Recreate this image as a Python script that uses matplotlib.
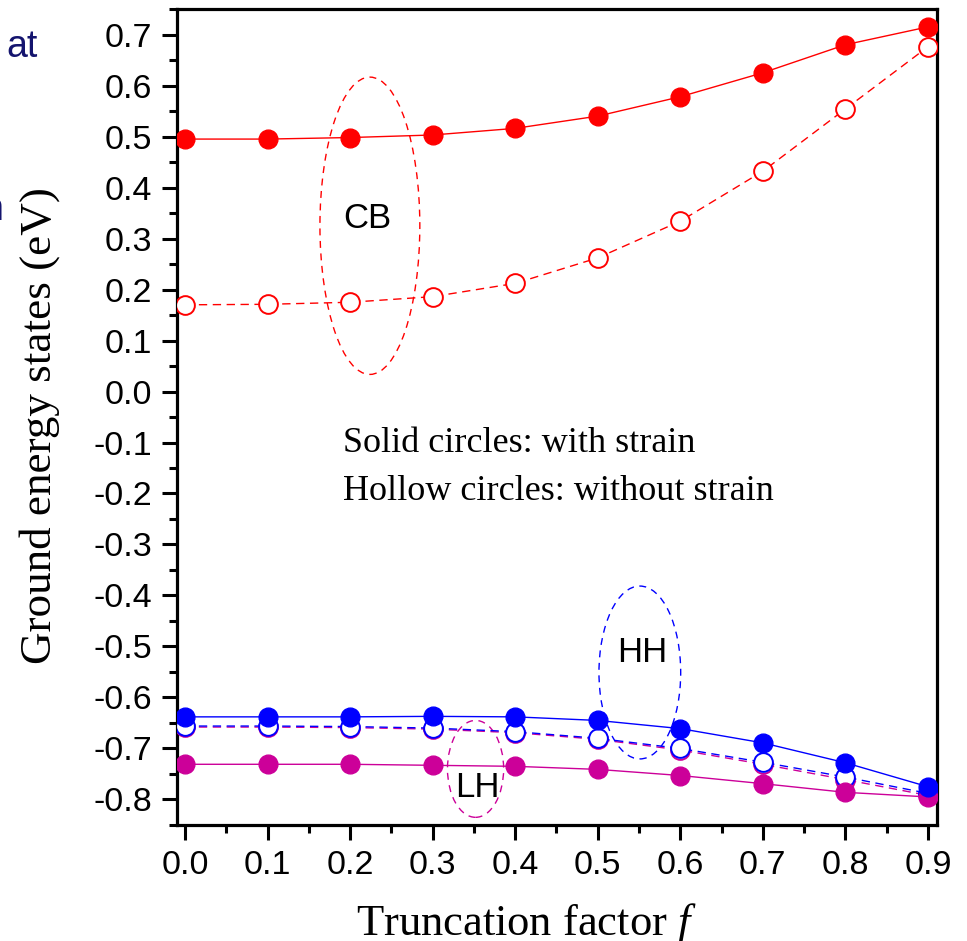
import numpy as np
import matplotlib
matplotlib.use('Agg')
import matplotlib.pyplot as plt
from matplotlib.patches import Ellipse
from matplotlib.ticker import MultipleLocator, FormatStrFormatter

plt.rcParams['mathtext.fontset'] = 'custom'
plt.rcParams['mathtext.it'] = 'Liberation Serif:italic'
plt.rcParams['mathtext.rm'] = 'Liberation Serif'

# data
f = [0.0, 0.1, 0.2, 0.3, 0.4, 0.5, 0.6, 0.7, 0.8, 0.9]
cb_strain = [0.495, 0.495, 0.498, 0.503, 0.516, 0.540, 0.578, 0.625, 0.680, 0.715]
cb_nostrain = [0.170, 0.171, 0.175, 0.186, 0.212, 0.262, 0.334, 0.432, 0.554, 0.676]
hh_strain = [-0.638, -0.638, -0.638, -0.637, -0.638, -0.645, -0.661, -0.689, -0.728, -0.775]
hh_nostrain = [-0.656, -0.656, -0.657, -0.660, -0.667, -0.680, -0.700, -0.727, -0.756, -0.788]
lh_strain = [-0.731, -0.731, -0.731, -0.733, -0.735, -0.741, -0.753, -0.769, -0.786, -0.795]
lh_nostrain = [-0.658, -0.658, -0.659, -0.662, -0.669, -0.682, -0.703, -0.731, -0.761, -0.792]

red = '#ff0000'
blue = '#0000ff'
mag = '#cc0099'
navy = '#14146e'
serif = 'Liberation Serif'
sans = 'Liberation Sans'

W, H = 967, 941
fig = plt.figure(figsize=(W / 100, H / 100), dpi=100)
ax = fig.add_axes([0.183, 0.1233, 0.786, 0.8671])

ms = 13.5
def solid(y, c):
    ax.plot(f, y, '-', color=c, lw=1.0, marker='o', ms=ms, mfc=c, mec=c, zorder=3)

def hollow(y, c):
    ax.plot(f, y, '--', color=c, lw=1.0, dashes=(6, 4), marker='o', ms=ms,
            mfc='white', mec=c, mew=1.4, zorder=3)

hollow(cb_nostrain, red)
solid(cb_strain, red)
hollow(lh_nostrain, mag)
hollow(hh_nostrain, blue)
solid(lh_strain, mag)
solid(hh_strain, blue)

# dashed ellipses around the bands
for xy, w, h, c in [((0.224, 0.325), 0.121, 0.583, red),
                    ((0.551, -0.551), 0.099, 0.339, blue),
                    ((0.352, -0.740), 0.068, 0.190, mag)]:
    ax.add_patch(Ellipse(xy, w, h, fill=False, ec=c, lw=1.0, ls=(0, (5, 4)), zorder=2))

ax.text(0.2205, 0.320, 'CB', family=sans, fontsize=25, ha='center', va='baseline')
ax.text(0.5535, -0.530, 'HH', family=sans, fontsize=25, ha='center', va='baseline')
ax.text(0.3537, -0.796, 'LH', family=sans, fontsize=25, ha='center', va='baseline')
ax.text(0.191, -0.1185, 'Solid circles: with strain', family=serif, fontsize=26, va='baseline')
ax.text(0.191, -0.2125, 'Hollow circles: without strain', family=serif, fontsize=26, va='baseline')

ax.set_xlim(-0.0097, 0.911)
ax.set_ylim(-0.85, 0.75)
ax.xaxis.set_major_locator(MultipleLocator(0.1))
ax.xaxis.set_minor_locator(MultipleLocator(0.05))
ax.yaxis.set_major_locator(MultipleLocator(0.1))
ax.yaxis.set_minor_locator(MultipleLocator(0.05))
ax.xaxis.set_major_formatter(FormatStrFormatter('%.1f'))
ax.yaxis.set_major_formatter(FormatStrFormatter('%.1f'))

ax.tick_params(which='both', direction='out', width=2.2, labelsize=24.5, pad=7)
ax.tick_params(which='major', length=11)
ax.tick_params(which='minor', length=6)
for lab in ax.get_xticklabels() + ax.get_yticklabels():
    lab.set_family(sans)

for s in ax.spines.values():
    s.set_linewidth(2.3)

# axis titles placed in figure pixels
fig.text(526 / W, 1 - 935 / H, 'Truncation factor $\\it{f}$', family=serif, fontsize=32,
         ha='center', va='baseline')
fig.text(40 / W, 1 - 426 / H, 'Ground energy states (eV)', family=serif, fontsize=32.5,
         rotation=90, ha='center', va='center')

# text cut off at the left edge of the source image
fig.text(38 / W, 1 - 57 / H, 'at', family=sans, fontsize=27, color=navy,
         ha='right', va='baseline')
fig.text(3 / W, 1 - 220 / H, 'n', family=sans, fontsize=27, color=navy,
         ha='right', va='baseline')

fig.savefig('out.png', dpi=100)
